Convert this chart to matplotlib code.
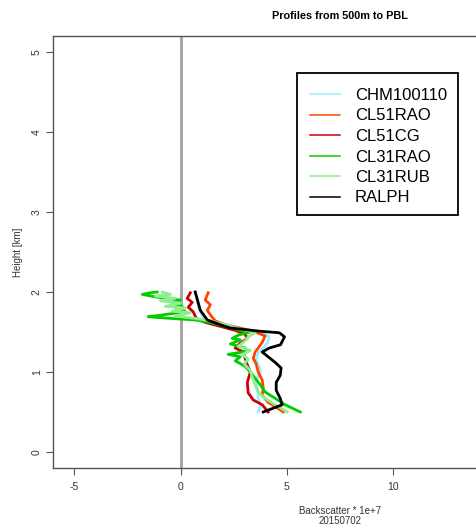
import matplotlib
matplotlib.use("Agg")
import matplotlib.pyplot as plt
from matplotlib.patches import Rectangle
from matplotlib.lines import Line2D

plt.rcParams['font.family'] = ['Liberation Sans', 'DejaVu Sans']
plt.rcParams['axes.unicode_minus'] = False

# Profiles (backscatter * 1e+7 vs height in km)
chm_x = [0.69, 0.78, 0.83, 0.93, 1.11, 1.49, 2.24, 3.04, 3.84, 4.17, 4.08, 3.89, 3.65,
         3.56, 3.70, 3.75, 3.61, 3.56, 3.65, 3.65, 3.75, 3.65]
chm_h = [2.00, 1.90, 1.82, 1.75, 1.67, 1.61, 1.56, 1.52, 1.49, 1.44, 1.36, 1.30, 1.24,
         1.15, 1.07, 1.00, 0.92, 0.84, 0.75, 0.67, 0.59, 0.50]

cl51rao_x = [1.30, 1.16, 1.40, 1.26, 1.44, 1.63, 2.10, 2.81, 3.51, 3.98, 3.84, 3.65, 3.51,
             3.42, 3.56, 3.65, 3.84, 3.89, 3.84, 4.12, 4.50, 4.83]
cl51rao_h = [1.99, 1.90, 1.84, 1.77, 1.70, 1.64, 1.59, 1.55, 1.50, 1.45, 1.37, 1.30, 1.25,
             1.17, 1.10, 1.00, 0.90, 0.80, 0.71, 0.62, 0.56, 0.50]

cl51cg_x = [0.46, 0.31, 0.55, 0.36, 0.60, 0.74, 1.16, 1.87, 2.57, 3.04, 3.14, 2.81, 2.57,
            2.95, 3.04, 3.14, 3.28, 3.14, 3.18, 3.42, 3.84, 4.12]
cl51cg_h = [1.99, 1.92, 1.87, 1.81, 1.75, 1.67, 1.62, 1.57, 1.52, 1.47, 1.42, 1.36, 1.30,
            1.25, 1.17, 1.09, 1.00, 0.87, 0.74, 0.65, 0.59, 0.50]

cl31rao_x = [-1.10, -1.42, -1.80, -1.42, -0.72, -0.01, -0.39, 0.08, -0.20, 0.22, -0.11,
             -0.95, -1.52, -0.48, 0.69, 1.40, 2.10, 2.81, 3.28, 2.71, 2.43, 2.81, 2.34,
             3.04, 3.14, 2.24, 2.81, 2.57, 3.04, 3.28, 3.51, 3.75, 3.98, 4.45, 4.92, 5.63]
cl31rao_h = [2.00, 1.99, 1.97, 1.95, 1.92, 1.90, 1.86, 1.82, 1.79, 1.76, 1.74,
             1.71, 1.69, 1.67, 1.65, 1.62, 1.57, 1.52, 1.50, 1.46, 1.42, 1.40, 1.35,
             1.30, 1.26, 1.22, 1.19, 1.14, 1.07, 1.00, 0.92, 0.84, 0.75, 0.67, 0.59, 0.50]

cl31rub_x = [-0.86, -0.48, -1.19, -0.25, -0.95, -0.01, -0.72, 0.22, -0.39, 0.46, -0.25,
             0.69, 1.40, 2.10, 2.81, 3.51, 3.18, 3.04, 2.71, 3.28, 2.90, 3.18, 3.00,
             3.28, 3.37, 3.51, 3.65, 3.98, 4.45, 5.02]
cl31rub_h = [2.00, 1.97, 1.95, 1.92, 1.89, 1.86, 1.82, 1.80, 1.76, 1.74, 1.70,
             1.67, 1.64, 1.59, 1.54, 1.49, 1.44, 1.39, 1.32, 1.27, 1.22, 1.16, 1.10,
             1.02, 0.94, 0.84, 0.75, 0.67, 0.59, 0.50]

ralph_x = [0.69, 0.93, 1.26, 1.87, 2.34, 3.71, 4.65, 4.89, 4.70, 4.18, 3.84, 4.12, 4.45,
           4.73, 4.69, 4.50, 4.50, 4.69, 4.78, 3.89]
ralph_h = [2.00, 1.77, 1.65, 1.59, 1.55, 1.51, 1.49, 1.44, 1.34, 1.30, 1.25, 1.19, 1.12,
           1.05, 0.96, 0.87, 0.77, 0.67, 0.59, 0.50]

series = [
    ("CHM100110", chm_x, chm_h, "#99EEFF"),
    ("CL51RAO", cl51rao_x, cl51rao_h, "#FF4500"),
    ("CL51CG", cl51cg_x, cl51cg_h, "#CC0000"),
    ("CL31RAO", cl31rao_x, cl31rao_h, "#00CC00"),
    ("CL31RUB", cl31rub_x, cl31rub_h, "#90EE90"),
    ("RALPH", ralph_x, ralph_h, "black"),
]

fig = plt.figure(figsize=(4.77, 5.26), dpi=100)
# plot region runs past the right edge, like the cropped original
ax = fig.add_axes([0.1111, 0.1103, 1.2034, 0.8213])

ax.axvline(0, color="#A0A0A0", lw=2, zorder=1)
handles = []
for name, xs, hs, col in series:
    ax.plot(xs, hs, color=col, lw=2, zorder=2)
    handles.append(Line2D([], [], color=col, lw=1.1, label=name))

ax.set_xlim(-6, 21)
ax.set_ylim(-0.2, 5.2)
ax.set_xticks([-5, 0, 5, 10])
ax.set_yticks([0, 1, 2, 3, 4, 5])
ax.tick_params(axis="both", direction="out", length=5, color="#555555",
               labelsize=7.5, labelcolor="#333333")
ax.tick_params(axis="x", pad=5)
ax.tick_params(axis="y", pad=3)
for lab in ax.get_yticklabels():
    lab.set_rotation(90)
    lab.set_va("center")
for s in ax.spines.values():
    s.set_color("#555555")
    s.set_linewidth(1)

ax.set_title("Profiles from 500m to PBL", fontsize=7.8, fontweight="bold", y=1.02)
ax.set_xlabel("Backscatter * 1e+7\n20150702", fontsize=7, color="#333333",
              linespacing=1.0)
ax.xaxis.set_label_coords(0.5, -0.087)
ax.set_ylabel("Height [km]", fontsize=7, color="#333333")
ax.yaxis.set_label_coords(-0.053, 0.5)

# legend box
fig.patches.append(Rectangle((297 / 477, 1 - 215 / 526), 161 / 477, 142 / 526,
                             transform=fig.transFigure, fill=False,
                             edgecolor="black", lw=1.3))
fig.legend(handles=handles, loc="upper left",
           bbox_to_anchor=(310 / 477, 1 - 88 / 526), frameon=False,
           fontsize=12, handlelength=1.8, handletextpad=0.9, labelspacing=0.33,
           borderpad=0, borderaxespad=0)

fig.savefig("out.png", dpi=100)
